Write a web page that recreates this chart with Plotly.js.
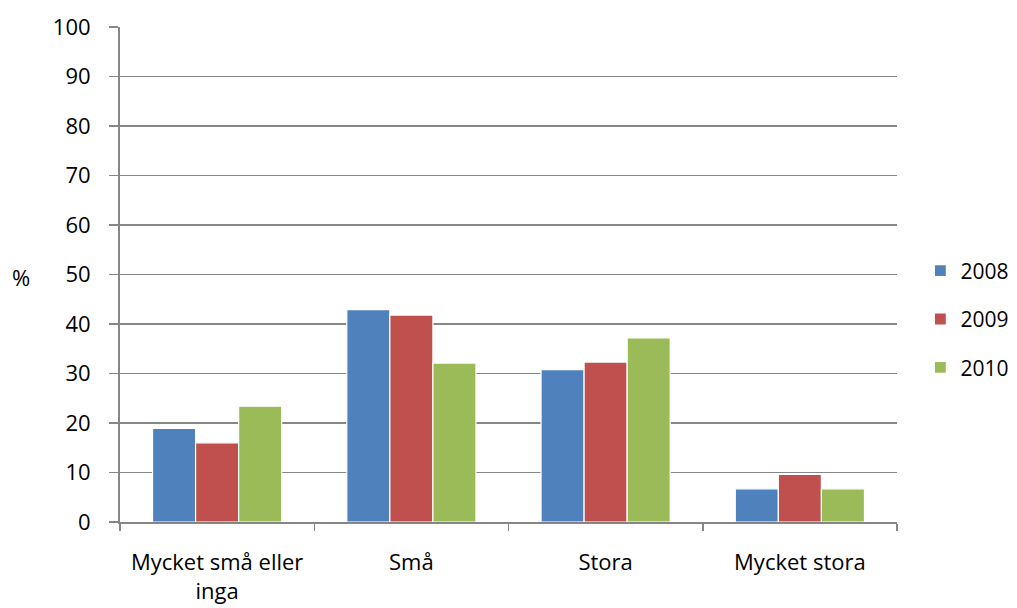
<!DOCTYPE html>
<html>
<head>
<meta charset="utf-8">
<script src="https://cdn.plot.ly/plotly-3.0.1.min.js"></script>
<style>html,body{margin:0;padding:0;background:#fff;}#chart{width:1017px;height:608px;}</style>
</head>
<body>
<div id="chart"></div>
<script>
const categories = ["Mycket små eller<br>inga", "Små", "Stora", "Mycket stora"];
const seriesNames = ["2008", "2009", "2010"];
const values2008 = [18.9, 42.9, 30.8, 6.7];
const values2009 = [16.0, 41.8, 32.3, 9.6];
const values2010 = [23.4, 32.1, 37.2, 6.7];
const colors = ["#4F81BD", "#C0504D", "#9BBB59"];
const yTicks = [0, 10, 20, 30, 40, 50, 60, 70, 80, 90, 100];

const allValues = [values2008, values2009, values2010];
const traces = allValues.map((v, i) => ({
  type: "bar",
  name: seriesNames[i],
  x: categories,
  y: v,
  legendgroup: "g" + i,
  marker: {color: colors[i], line: {color: "#ffffff", width: 1.2}},
  hoverinfo: "skip"
}));

const font = {family: "'Open Sans', Lato, sans-serif", size: 22, color: "#000"};

const layout = {
  width: 1017, height: 608,
  margin: {l: 120, r: 120, t: 27, b: 86, pad: 0, autoexpand: false},
  paper_bgcolor: "#fff", plot_bgcolor: "#fff",
  font: font,
  barmode: "group",
  bargap: 0.335,
  bargroupgap: 0,
  showlegend: true,
  legend: {
    xref: "container", x: 0.905, xanchor: "left", y: 0.41, yanchor: "middle",
    font: {family: font.family, size: 21, color: "#000"},
    traceorder: "grouped",
    tracegroupgap: 18,
    itemwidth: 30,
    bgcolor: "rgba(0,0,0,0)"
  },
  xaxis: {
    type: "category",
    showline: true, linecolor: "#868686", linewidth: 2,
    ticks: "outside", tickson: "boundaries", ticklen: 7, tickcolor: "#868686", tickwidth: 1.5,
    showgrid: false,
    tickfont: font,
    ticklabelstandoff: 20,
    fixedrange: true
  },
  yaxis: {
    range: [0, 100],
    tickvals: yTicks,
    ticktext: yTicks.map(String),
    showline: true, linecolor: "#868686", linewidth: 2,
    ticks: "outside", ticklen: 9, tickcolor: "#868686", tickwidth: 1.5,
    showgrid: true, gridcolor: "#868686", gridwidth: 1.5,
    zeroline: false,
    tickfont: font,
    ticklabelstandoff: 14,
    fixedrange: true
  },
  annotations: [{
    text: "%", xref: "paper", yref: "paper", x: -0.128, y: 0.495,
    xanchor: "center", yanchor: "middle", showarrow: false,
    font: font
  }]
};

Plotly.newPlot("chart", traces, layout, {displayModeBar: false, staticPlot: true});
</script>
</body>
</html>
